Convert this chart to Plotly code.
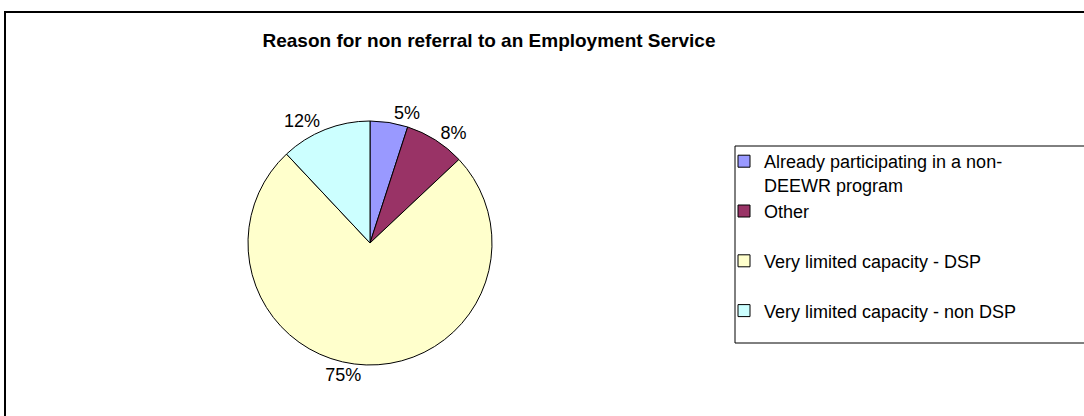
import plotly.graph_objects as go

# ---- data ----
categories = [
    "Already participating in a non-<br>DEEWR program",
    "Other<br> ",
    "Very limited capacity - DSP<br> ",
    "Very limited capacity - non DSP",
]
values = [5, 8, 75, 12]
colors = ["#9999FF", "#993366", "#FFFFCC", "#CCFFFF"]
title_text = "Reason for non referral to an Employment Service"

W, H = 1084, 416
FONT = "Liberation Sans, Arial, sans-serif"

# pie geometry (pixels)
cx, cy, r = 370, 243, 122

fig = go.Figure()
fig.add_trace(go.Pie(
    labels=categories,
    values=values,
    sort=False,
    direction="clockwise",
    rotation=0,
    marker=dict(colors=colors, line=dict(color="#000000", width=1)),
    textinfo="percent",
    texttemplate="%{percent:.0%}",
    textposition="outside",
    outsidetextfont=dict(family=FONT, size=18, color="#000000"),
    domain=dict(x=[(cx - r) / W, (cx + r) / W],
                y=[(H - cy - r) / H, (H - cy + r) / H]),
    hoverinfo="label+percent",
    showlegend=True,
))

fig.update_layout(
    width=W, height=H,
    margin=dict(l=0, r=0, t=0, b=0, autoexpand=False),
    paper_bgcolor="#FFFFFF",
    plot_bgcolor="#FFFFFF",
    title=dict(text="<b>" + title_text + "</b>",
               x=489 / W, xanchor="center", xref="paper",
               y=1 - 40 / H, yanchor="middle", yref="container",
               font=dict(family=FONT, size=19, color="#000000")),
    legend=dict(x=724 / W, xanchor="left", y=1 - 143 / H, yanchor="top",
                bgcolor="rgba(0,0,0,0)", borderwidth=0,
                valign="top",
                font=dict(family=FONT, size=18, color="#000000"),
                itemclick=False, itemdoubleclick=False),
    shapes=[
        # outer chart frame (clipped on right and bottom)
        dict(type="rect", xref="paper", yref="paper",
             x0=5 / W, x1=1.02, y0=-0.05, y1=1 - 12 / H,
             line=dict(color="#000000", width=2), fillcolor="rgba(0,0,0,0)"),
        # legend box
        dict(type="rect", xref="paper", yref="paper",
             x0=735 / W, x1=1.02, y0=1 - 343 / H, y1=1 - 146 / H,
             line=dict(color="#000000", width=1), fillcolor="rgba(0,0,0,0)"),
    ],
)

fig.write_html("out.html")
